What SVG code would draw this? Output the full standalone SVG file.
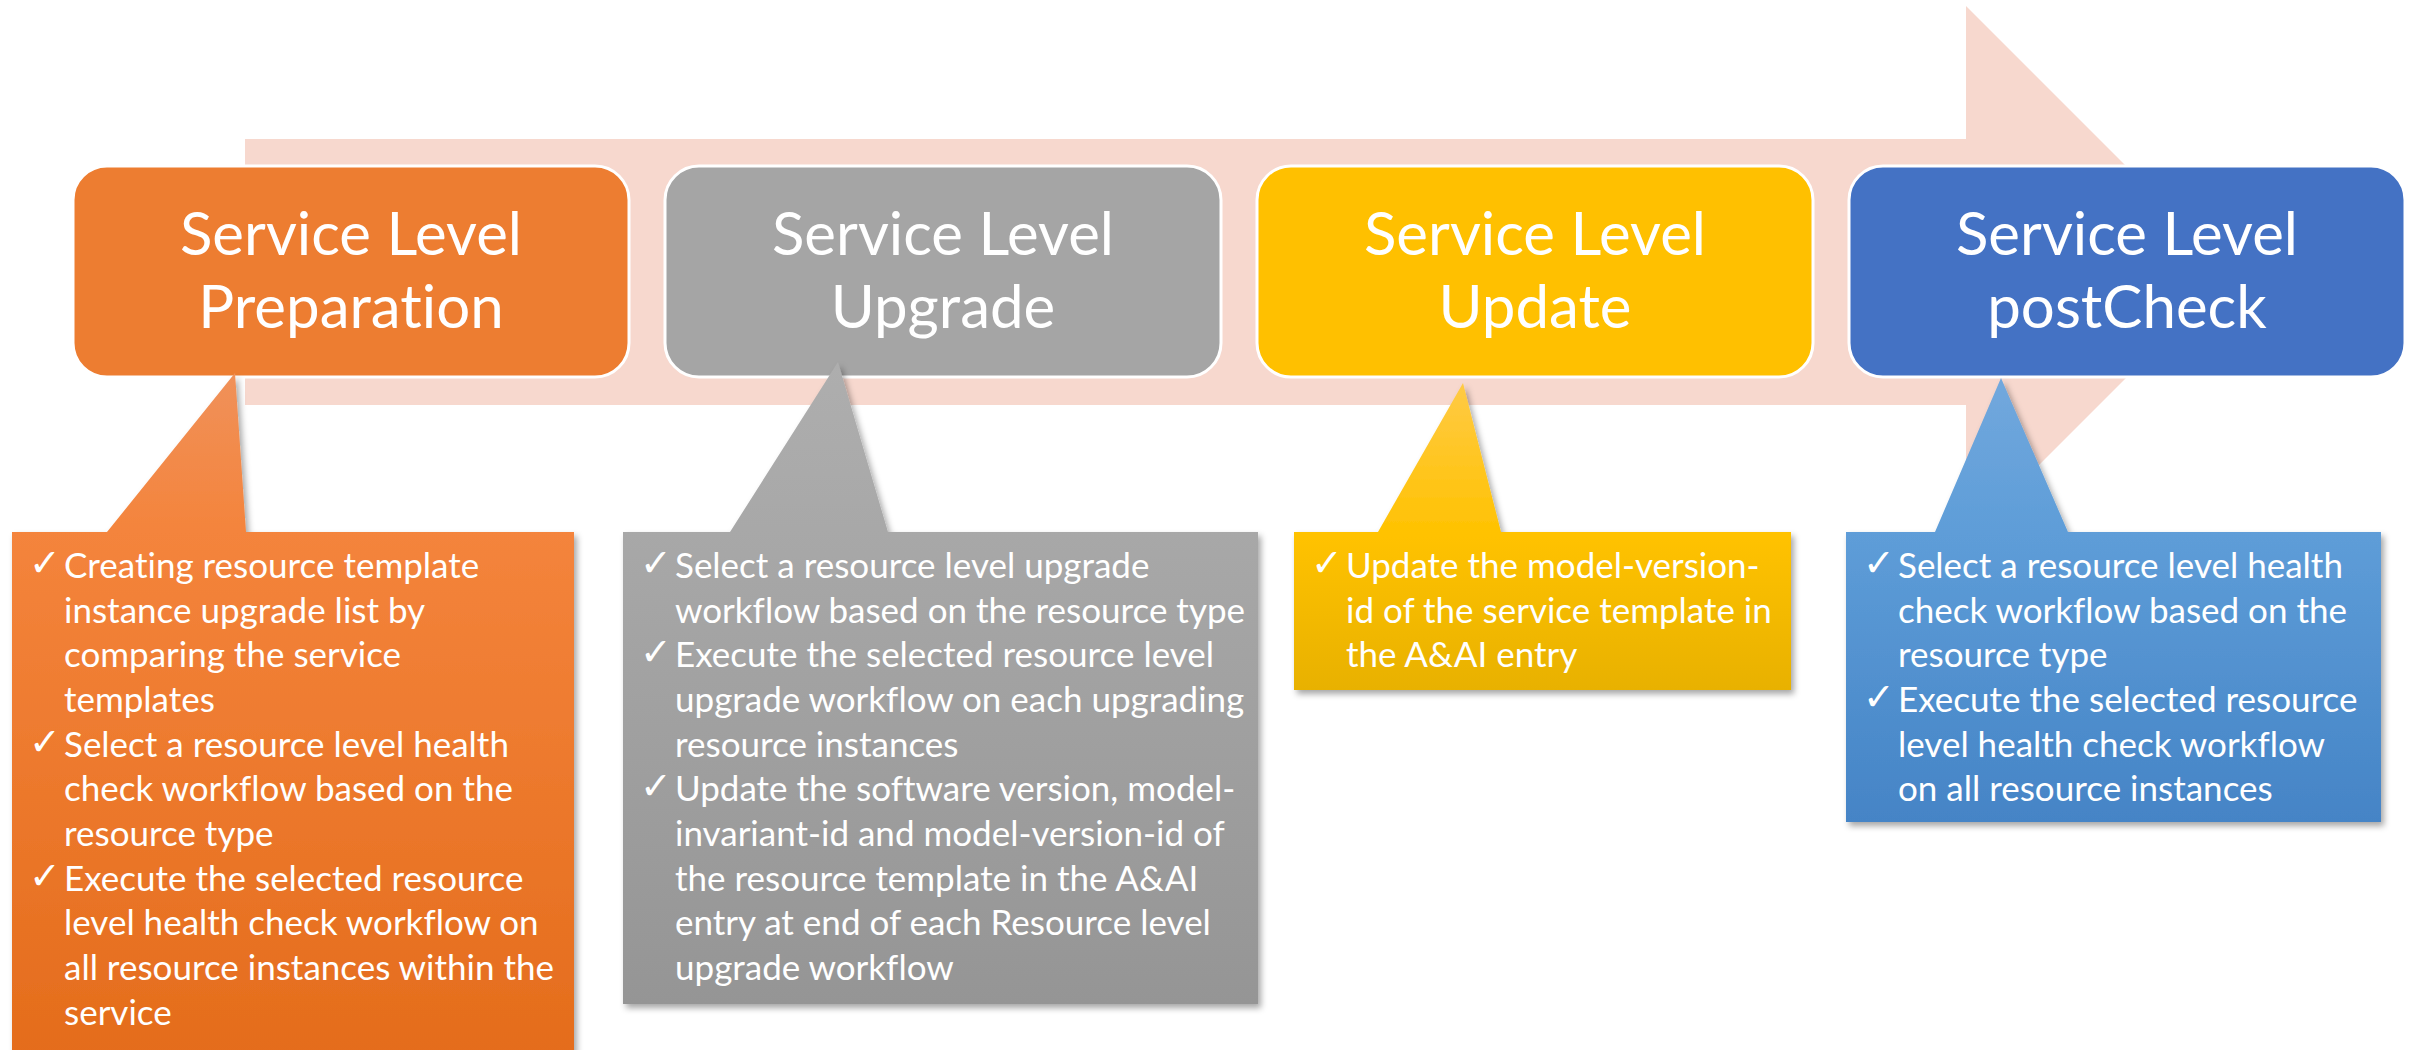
<svg xmlns="http://www.w3.org/2000/svg" width="2415" height="1050" viewBox="0 0 2415 1050">
<defs>
<style>
.head{font-family:Lato,"Open Sans","Liberation Sans",sans-serif;font-size:60px;fill:#fff;text-anchor:middle;font-variant-ligatures:none}
.txt{font-family:Lato,"Open Sans","Liberation Sans",sans-serif;font-size:35px;fill:#fff;font-variant-ligatures:none}
.chk{font-family:"DejaVu Sans",sans-serif;font-size:38px;fill:#fff}
.box{stroke:#fff;stroke-width:3}
</style>
<filter id="sh" x="-10%" y="-10%" width="125%" height="125%">
<feDropShadow dx="3" dy="4" stdDeviation="3" flood-color="#000" flood-opacity="0.35"/>
</filter>
<linearGradient id="gO" x1="0" y1="0" x2="0" y2="1">
<stop offset="0" stop-color="#F0915A"/>
<stop offset="0.23" stop-color="#F4843C"/>
<stop offset="1" stop-color="#E46C1B"/>
</linearGradient>
<linearGradient id="gG" x1="0" y1="0" x2="0" y2="1">
<stop offset="0" stop-color="#AEAEAE"/>
<stop offset="0.26" stop-color="#A8A8A8"/>
<stop offset="1" stop-color="#959595"/>
</linearGradient>
<linearGradient id="gY" x1="0" y1="0" x2="0" y2="1">
<stop offset="0" stop-color="#FFCA45"/>
<stop offset="0.5" stop-color="#FFC200"/>
<stop offset="1" stop-color="#E8B100"/>
</linearGradient>
<linearGradient id="gB" x1="0" y1="0" x2="0" y2="1">
<stop offset="0" stop-color="#72A8DD"/>
<stop offset="0.35" stop-color="#5E9DD8"/>
<stop offset="1" stop-color="#4584C6"/>
</linearGradient>
</defs>
<rect width="2415" height="1050" fill="#fff"/>
<g id="connectors">
<polygon id="flow-arrow" points="245,139 1966,139 1966,6 2232,272 1966,538 1966,405 245,405" fill="#F7D8CE"/>
</g>
<g id="node-preparation">
<rect class="box" x="73" y="166" width="556" height="211" rx="34" fill="#ED7D31"/>
<text class="head" x="351" y="255">Service Level</text>
<text class="head" x="351" y="328">Preparation</text>
</g>
<g id="node-upgrade">
<rect class="box" x="665" y="166" width="556" height="211" rx="34" fill="#A5A5A5"/>
<text class="head" x="943" y="255">Service Level</text>
<text class="head" x="943" y="328">Upgrade</text>
</g>
<g id="node-update">
<rect class="box" x="1257" y="166" width="556" height="211" rx="34" fill="#FFC000"/>
<text class="head" x="1535" y="255">Service Level</text>
<text class="head" x="1535" y="328">Update</text>
</g>
<g id="node-postcheck">
<rect class="box" x="1849" y="166" width="556" height="211" rx="34" fill="#4472C4"/>
<text class="head" x="2127" y="255">Service Level</text>
<text class="head" x="2127" y="328">postCheck</text>
</g>
<g id="callout-preparation">
<path d="M12,532 H107 L235,373 L246,532 H574 V1062 H12 Z" fill="url(#gO)" filter="url(#sh)"/>
<text class="chk" x="29" y="576">✓</text>
<text class="txt" x="64" y="578">Creating resource template</text>
<text class="txt" x="64" y="623">instance upgrade list by</text>
<text class="txt" x="64" y="667">comparing the service</text>
<text class="txt" x="64" y="712">templates</text>
<text class="chk" x="29" y="755">✓</text>
<text class="txt" x="64" y="757">Select a resource level health</text>
<text class="txt" x="64" y="801">check workflow based on the</text>
<text class="txt" x="64" y="846">resource type</text>
<text class="chk" x="29" y="889">✓</text>
<text class="txt" x="64" y="891">Execute the selected resource</text>
<text class="txt" x="64" y="935">level health check workflow on</text>
<text class="txt" x="64" y="980">all resource instances within the</text>
<text class="txt" x="64" y="1025">service</text>
</g>
<g id="callout-upgrade">
<path d="M623,532 H730 L838,362 L888,532 H1258 V1004 H623 Z" fill="url(#gG)" filter="url(#sh)"/>
<text class="chk" x="640" y="576">✓</text>
<text class="txt" x="675" y="578">Select a resource level upgrade</text>
<text class="txt" x="675" y="623">workflow based on the resource type</text>
<text class="chk" x="640" y="665">✓</text>
<text class="txt" x="675" y="667">Execute the selected resource level</text>
<text class="txt" x="675" y="712">upgrade workflow on each upgrading</text>
<text class="txt" x="675" y="757">resource instances</text>
<text class="chk" x="640" y="799">✓</text>
<text class="txt" x="675" y="801">Update the software version, model-</text>
<text class="txt" x="675" y="846">invariant-id and model-version-id of</text>
<text class="txt" x="675" y="891">the resource template in the A&amp;AI</text>
<text class="txt" x="675" y="935">entry at end of each Resource level</text>
<text class="txt" x="675" y="980">upgrade workflow</text>
</g>
<g id="callout-update">
<path d="M1294,532 H1378 L1463,383 L1501,532 H1791 V690 H1294 Z" fill="url(#gY)" filter="url(#sh)"/>
<text class="chk" x="1311" y="576">✓</text>
<text class="txt" x="1346" y="578">Update the model-version-</text>
<text class="txt" x="1346" y="623">id of the service template in</text>
<text class="txt" x="1346" y="667">the A&amp;AI entry</text>
</g>
<g id="callout-postcheck">
<path d="M1846,532 H1935 L2001,378 L2068,532 H2381 V822 H1846 Z" fill="url(#gB)" filter="url(#sh)"/>
<text class="chk" x="1863" y="576">✓</text>
<text class="txt" x="1898" y="578">Select a resource level health</text>
<text class="txt" x="1898" y="623">check workflow based on the</text>
<text class="txt" x="1898" y="667">resource type</text>
<text class="chk" x="1863" y="710">✓</text>
<text class="txt" x="1898" y="712">Execute the selected resource</text>
<text class="txt" x="1898" y="757">level health check workflow</text>
<text class="txt" x="1898" y="801">on all resource instances</text>
</g>
</svg>
